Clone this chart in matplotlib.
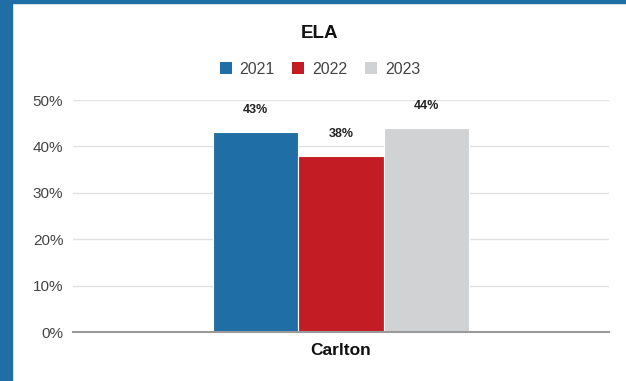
import matplotlib
matplotlib.use("Agg")
import matplotlib.pyplot as plt
from matplotlib.patches import Rectangle, Patch

plt.rcParams['font.family'] = ['Liberation Sans', 'DejaVu Sans']

years = ["2021", "2022", "2023"]
values = [43, 38, 44]
labels = ["43%", "38%", "44%"]
category = "Carlton"
colors = ["#1f6ea6", "#c41c24", "#d0d2d4"]
yticks = [0, 10, 20, 30, 40, 50]
ytick_labels = ["0%", "10%", "20%", "30%", "40%", "50%"]

W, H = 626, 381
fig = plt.figure(figsize=(W/100, H/100), dpi=100)
fig.patch.set_facecolor("white")

# frame
fig.patches.append(Rectangle((0, 0), 12/W, 1, transform=fig.transFigure, color="#1f6ea6", zorder=0))
fig.patches.append(Rectangle((0, 1-3/H), 1, 3/H, transform=fig.transFigure, color="#1f6ea6", zorder=0))

ax = fig.add_axes([73/W, 1-332/H, (609-73)/W, (332-100)/H])
ax.set_facecolor("none")
xs = [-1, 0, 1]
bars = ax.bar(xs, values, width=1.0, color=colors, edgecolor="white", linewidth=0.8, zorder=3)
for x, v, l in zip(xs, values, labels):
    ax.text(x, v + 4.75, l, ha="center", va="center", fontsize=9, fontweight="bold", color="#222222")

ax.set_xlim(-3.14, 3.14)
ax.set_ylim(0, 50)
ax.set_yticks(yticks)
ax.set_yticklabels(ytick_labels, fontsize=11, color="#444444")
ax.tick_params(axis="y", length=0, pad=7)
ax.set_xticks([0])
ax.set_xticklabels([category], fontsize=12.5, fontweight="bold", color="#111111")
ax.tick_params(axis="x", length=0, pad=8)
ax.grid(axis="y", color="#e2e2e2", linewidth=1, zorder=0)
for s in ["top", "right", "left"]:
    ax.spines[s].set_visible(False)
ax.spines["bottom"].set_color("#9a9a9a")
ax.spines["bottom"].set_linewidth(1.5)
ax.spines["bottom"].set_zorder(4)

fig.text(320/W, 1-34/H, "ELA", ha="center", va="center", fontsize=13.5, fontweight="bold", color="#111111")
handles = [Patch(facecolor=c, edgecolor="none") for c in colors]
fig.legend(handles, years, loc="center", bbox_to_anchor=(320/W, 1-69/H), ncol=3, frameon=False,
           fontsize=11.5, handlelength=0.75, handleheight=0.75, handletextpad=0.5, columnspacing=1.1,
           labelcolor="#444444")

fig.savefig("out.png", dpi=100, facecolor="white")
